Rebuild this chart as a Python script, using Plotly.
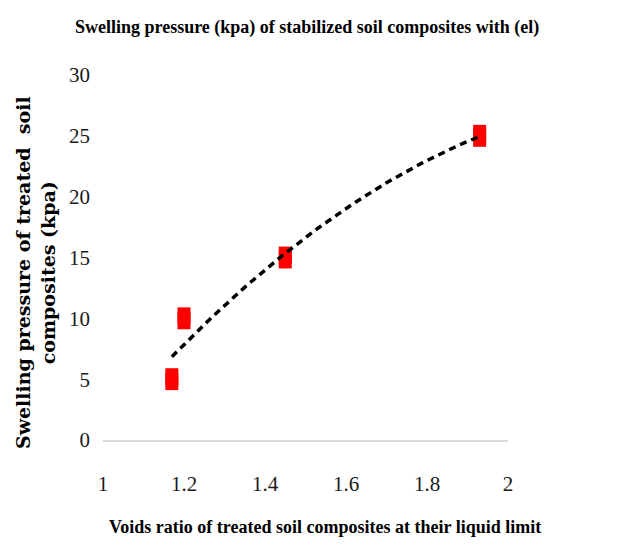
import numpy as np
import plotly.graph_objects as go

# Data
voids_ratio = [1.17, 1.20, 1.45, 1.93]
swelling_pressure = [5, 10, 15, 25]
trend_coeffs = [-13.655, 66.167, -51.883]  # y = a x^2 + b x + c (shown on chart)
r_squared = 0.9629
x_ticks = [1, 1.2, 1.4, 1.6, 1.8, 2]
y_ticks = [0, 5, 10, 15, 20, 25, 30]

title_text = "Swelling pressure (kpa) of stabilized soil composites with (el)"
x_title = "Voids ratio of treated soil composites at their liquid limit"
y_title = "Swelling pressure of treated  soil<br>composites (kpa)"

serif = "Liberation Serif, Times New Roman, serif"

trend_x = np.linspace(min(voids_ratio), max(voids_ratio), 120)
trend_y = np.polyval(trend_coeffs, trend_x)

fig = go.Figure()
fig.add_trace(go.Scatter(
    x=voids_ratio, y=swelling_pressure, mode="markers",
    marker=dict(symbol="square", size=13, color="#ff0000", line=dict(width=0)),
    error_y=dict(type="constant", value=0.9, thickness=13, width=0, color="#ff0000"),
    showlegend=False, hoverinfo="x+y"))
fig.add_trace(go.Scatter(
    x=trend_x, y=trend_y, mode="lines",
    line=dict(color="black", width=3.5, dash="7px,5px"),
    showlegend=False, hoverinfo="skip"))

a, b, c = trend_coeffs
eq = f"y = {a:.3f}x² + {b:.3f}x - {abs(c):.3f}"

fig.update_layout(
    width=637, height=545,
    margin=dict(l=95, r=137, t=67, b=113),
    paper_bgcolor="white", plot_bgcolor="white",
    font=dict(family=serif, color="#1a1a1a"),
    xaxis=dict(range=[1, 2], tickvals=x_ticks, ticktext=[f"{v:g}" for v in x_ticks],
               showgrid=False, zeroline=False, showline=True, linecolor="#d9d9d9",
               linewidth=1.5, ticks="", ticklabelstandoff=24,
               tickfont=dict(family=serif, size=21, color="#1a1a1a")),
    yaxis=dict(range=[0, 30], tickvals=y_ticks, showgrid=False, zeroline=False,
               showline=False, ticks="", ticklabelstandoff=12,
               tickfont=dict(family=serif, size=21, color="#1a1a1a")),
    annotations=[
        dict(text=title_text, xref="paper", yref="paper", x=0.504, y=1.129,
             xanchor="center", yanchor="middle", showarrow=False,
             font=dict(family=serif, size=18, color="#000000", weight="bold")),
        dict(text=x_title, xref="paper", yref="paper", x=0.548, y=-0.238,
             xanchor="center", yanchor="middle", showarrow=False,
             font=dict(family=serif, size=18, color="#000000", weight="bold")),
        dict(text=y_title, xref="paper", yref="paper", x=-0.168, y=0.46,
             xanchor="center", yanchor="middle", showarrow=False, textangle=-90,
             font=dict(family="DejaVu Serif, serif", size=19, color="#000000", weight="bold")),
        dict(text=eq, xref="x", yref="y", x=2.022, y=19.9,
             xanchor="center", yanchor="middle", showarrow=False,
             font=dict(family=serif, size=18, color="#1a1a1a")),
        dict(text=f"R² = {r_squared:.4f}", xref="x", yref="y", x=2.02, y=17.0,
             xanchor="center", yanchor="middle", showarrow=False,
             font=dict(family=serif, size=18, color="#1a1a1a")),
    ],
)

fig.write_html("out.html")
